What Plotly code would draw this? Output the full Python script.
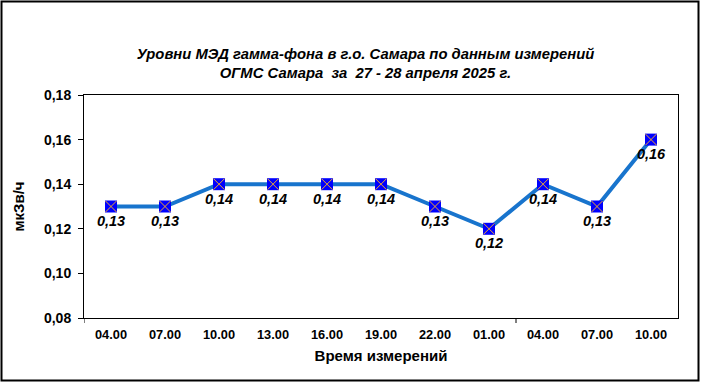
import plotly.graph_objects as go

times = ["04.00", "07.00", "10.00", "13.00", "16.00", "19.00", "22.00", "01.00", "04.00", "07.00", "10.00"]
values = [0.13, 0.13, 0.14, 0.14, 0.14, 0.14, 0.13, 0.12, 0.14, 0.13, 0.16]
y_ticks = [0.08, 0.10, 0.12, 0.14, 0.16, 0.18]
title_lines = ["Уровни МЭД гамма-фона в г.о. Самара по данным измерений",
               "ОГМС Самара  за  27 - 28 апреля 2025 г."]
day_boundary = 7.5

W, H = 701, 383
ML, MR, MT, MB = 84, 23, 95, 65
PW, PH = W - ML - MR, H - MT - MB

xs = list(range(len(times)))
font_fam = "Arial, Liberation Sans, sans-serif"

fig = go.Figure()
fig.add_trace(go.Scatter(
    x=xs, y=values, mode="lines+markers+text",
    line=dict(color="#1874CD", width=4),
    marker=dict(symbol="square", size=12, color="#0000FF",
                line=dict(color="#0000FF", width=0)),
    texttemplate="%{y:.2f}", textposition="bottom center",
    textfont=dict(family=font_fam, size=14.5, color="black", weight="bold", style="italic"),
    cliponaxis=False, showlegend=False, hoverinfo="skip",
))
fig.add_trace(go.Scatter(
    x=xs, y=values, mode="markers",
    marker=dict(symbol="x-thin-open", size=11, color="#F0A830",
                line=dict(color="#F0A830", width=1)),
    cliponaxis=False, showlegend=False,
))

def px_x(p):
    return (p - ML) / PW

def px_y(p):
    return 1 - (p - MT) / PH

shapes = [
    dict(type="rect", xref="paper", yref="paper",
         x0=px_x(1.5), x1=px_x(W - 2.5), y0=px_y(H - 2.5), y1=px_y(1.5),
         line=dict(color="black", width=2), fillcolor="rgba(0,0,0,0)"),
]
for xv in [-0.5, day_boundary]:
    shapes.append(dict(type="line", xref="x", yref="paper", x0=xv, x1=xv,
                       y0=0, y1=-5 / PH, line=dict(color="black", width=1)))

fig.update_layout(
    width=W, height=H,
    margin=dict(l=ML, r=MR, t=MT, b=MB),
    paper_bgcolor="white", plot_bgcolor="white",
    separators=", ",
    title=dict(text="<br>".join(title_lines), x=365.5 / W, xanchor="center",
               y=1 - 58.5 / H, yanchor="middle",
               font=dict(family=font_fam, size=14.8, color="black", weight="bold", style="italic")),
    xaxis=dict(range=[-0.5, len(times) - 0.5], tickvals=xs, ticktext=times,
               showgrid=False, zeroline=False, showline=True, mirror=True,
               linecolor="black", linewidth=1, ticks="", automargin=False,
               ticklabelstandoff=5,
               tickfont=dict(family=font_fam, size=12.8, color="black", weight="bold"),
               title=dict(text="Время измерений", standoff=9,
                          font=dict(family=font_fam, size=15, color="black", weight="bold"))),
    yaxis=dict(range=[0.08, 0.18], tickvals=y_ticks, tickformat=".2f",
               showgrid=False, zeroline=False, showline=True, mirror=True,
               linecolor="black", linewidth=1, ticks="outside", ticklen=5,
               tickcolor="black", automargin=False, ticklabelstandoff=4,
               tickfont=dict(family=font_fam, size=14, color="black", weight="bold"),
               title=dict(text="мкЗв/ч", standoff=15,
                          font=dict(family=font_fam, size=15, color="black", weight="bold"))),
    shapes=shapes,
)

fig.write_html("out.html", config={"displayModeBar": False},
               post_script="document.body.style.margin='0';document.body.style.overflow='hidden';")
